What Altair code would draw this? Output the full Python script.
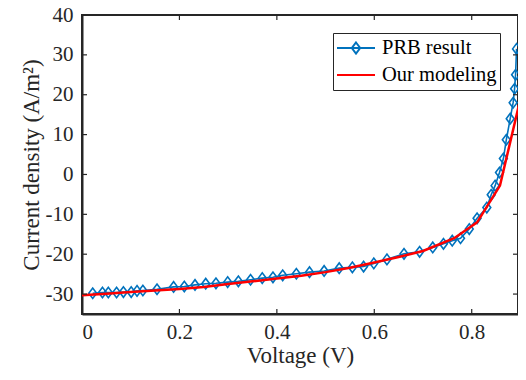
import altair as alt
import pandas as pd

# ---- data ----
prb_v = [0.022, 0.042, 0.054, 0.071, 0.085, 0.101, 0.113, 0.125, 0.154, 0.188,
         0.210, 0.232, 0.254, 0.275, 0.299, 0.321, 0.346, 0.370, 0.392, 0.412,
         0.440, 0.467, 0.497, 0.528, 0.555, 0.578, 0.599, 0.626, 0.661, 0.693,
         0.720, 0.742, 0.760, 0.777, 0.795, 0.811, 0.831, 0.840, 0.848, 0.857,
         0.865, 0.871, 0.879, 0.885, 0.888, 0.890, 0.892]
prb_j = [-29.8, -29.6, -29.6, -29.6, -29.5, -29.5, -29.2, -29.1, -28.8, -28.2,
         -28.1, -27.7, -27.4, -27.3, -27.0, -26.8, -26.4, -26.0, -25.8, -25.3,
         -24.9, -24.5, -24.2, -23.5, -23.3, -23.1, -22.3, -21.3, -19.9, -19.4,
         -18.3, -17.4, -16.6, -16.0, -13.7, -11.0, -8.3, -5.1, -2.8, 0.5,
         4.0, 8.7, 14.0, 18.0, 21.5, 25.0, 31.5]

model_v = [0.0, 0.05, 0.1, 0.15, 0.2, 0.25, 0.3, 0.35, 0.4, 0.45, 0.5, 0.55,
           0.6, 0.65, 0.7, 0.764, 0.811, 0.858, 0.9]
model_j = [-30.3, -29.9, -29.5, -29.1, -28.7, -28.2, -27.5, -26.8, -26.1, -25.4,
           -24.5, -23.4, -22.1, -20.7, -19.2, -16.0, -12.0, -2.8, 19.0]

x_ticks = [0, 0.2, 0.4, 0.6, 0.8]
y_ticks = [-30, -20, -10, 0, 10, 20, 30, 40]
series_names = ["PRB result", "Our modeling"]
series_colors = ["#0072BD", "#FF0000"]

prb = pd.DataFrame({"V": prb_v, "J": prb_j, "series": series_names[0]})
model = pd.DataFrame({"V": model_v, "J": model_j, "series": series_names[1]})
xt = pd.DataFrame({"V": x_ticks})
yt = pd.DataFrame({"J": y_ticks})

W, H = 436, 299
AX = "#262626"
FONT = "Liberation Serif"

xs = alt.Scale(domain=[0, 0.895], nice=False, zero=False)
ys = alt.Scale(domain=[-35, 40], nice=False, zero=False)

axis_style = dict(
    ticks=False, grid=False, domainColor=AX, domainWidth=2,
    labelFont=FONT, labelFontSize=21, labelColor=AX,
    titleFont=FONT, titleFontSize=23, titleColor=AX, titleFontWeight="normal",
    labelExpr="datum.value + ''",
)
x_axis = alt.Axis(values=x_ticks, title="Voltage (V)", labelPadding=7, titlePadding=2, **axis_style)
y_axis = alt.Axis(values=y_ticks, title="Current density (A/m²)", labelPadding=9, titlePadding=2,
                  labelFlush=False, **axis_style)

color = alt.Color(
    "series:N",
    scale=alt.Scale(domain=series_names, range=series_colors),
    legend=alt.Legend(
        title=None, orient="none", legendX=251, legendY=18,
        strokeColor=AX, fillColor="white", padding=3,
        symbolType={"expr": "datum.label == 'PRB result' ? 'M-1,0H1M0,-0.29L0.22,0L0,0.29L-0.22,0Z' : 'M-1,0H1'"},
        symbolSize=1444, symbolStrokeWidth=2, symbolFillColor="transparent",
        clipHeight=24, rowPadding=3, labelOffset=6,
        labelFont=FONT, labelFontSize=20.5, labelColor="black",
    ),
)

X = alt.X("V:Q", scale=xs, axis=x_axis)
Y = alt.Y("J:Q", scale=ys, axis=y_axis)

prb_line = alt.Chart(prb).mark_line(strokeWidth=1.6, clip=True).encode(x=X, y=Y, color=color)
prb_pts = alt.Chart(prb).mark_point(
    shape="M-0.75,0L0,-1L0.75,0L0,1Z", size=110, filled=False, strokeWidth=1.6, opacity=1
).encode(x=X, y=Y, color=color)
model_line = alt.Chart(model).mark_line(strokeWidth=2.5, clip=True).encode(x=X, y=Y, color=color)

tick_style = dict(color=AX, strokeWidth=1.2)
xb = alt.Chart(xt).mark_rule(**tick_style).encode(
    x=X, y=alt.value(H), y2=alt.value(H - 5))
xtp = alt.Chart(xt).mark_rule(**tick_style).encode(
    x=X, y=alt.value(0), y2=alt.value(5))
yl = alt.Chart(yt).mark_rule(**tick_style).encode(
    y=Y, x=alt.value(0), x2=alt.value(5))
yr = alt.Chart(yt).mark_rule(**tick_style).encode(
    y=Y, x=alt.value(W - 5), x2=alt.value(W))

chart = alt.layer(prb_line, prb_pts, model_line, xb, xtp, yl, yr).properties(
    width=W, height=H,
    autosize=alt.AutoSizeParams(type="none"),
    padding={"left": 74, "top": 7, "right": 0, "bottom": 62},
    background="white",
).configure_view(
    stroke=AX, strokeWidth=2
)

chart.save("out.html", embed_options={"renderer": "svg", "actions": False})
